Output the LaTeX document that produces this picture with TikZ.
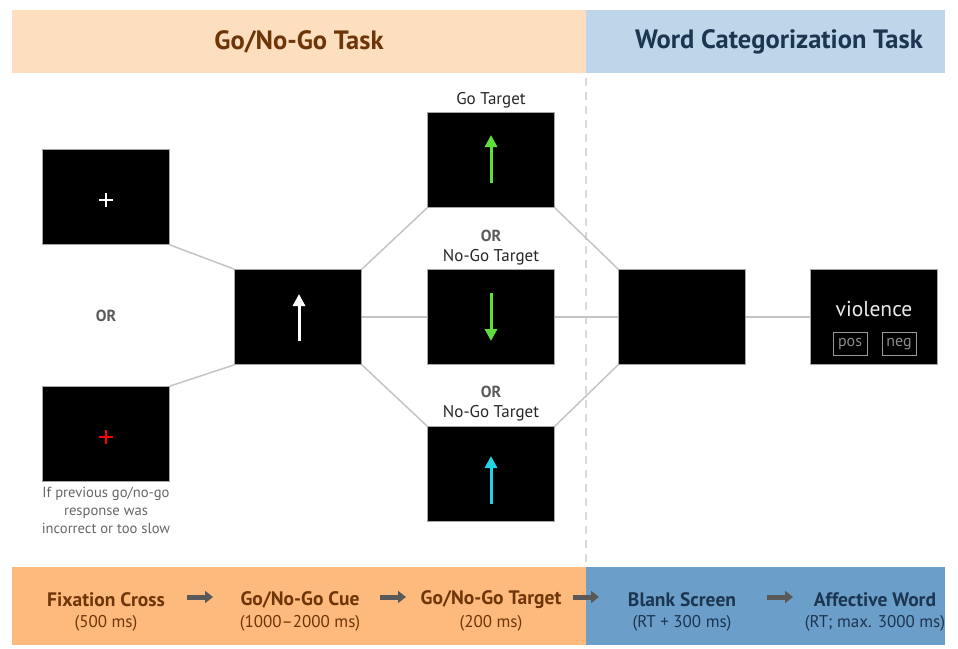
\documentclass[tikz,border=0pt]{standalone}
\usepackage{fontspec}
\setmainfont{PT Sans}
\usetikzlibrary{arrows.meta}
\definecolor{hdrOr}{HTML}{FDDFC0}
\definecolor{hdrBl}{HTML}{BED6EA}
\definecolor{botOr}{HTML}{FDBA7C}
\definecolor{botBl}{HTML}{6B9FC9}
\definecolor{txBr}{HTML}{6E3508}
\definecolor{txBl}{HTML}{1C3550}
\definecolor{conn}{HTML}{C4C4C4}
\definecolor{goGreen}{HTML}{5EDD3C}
\definecolor{nogoCyan}{HTML}{22D3E6}
\tikzset{
  screen/.style={draw=gray!70, fill=black, line width=0.8pt, minimum width=127pt, minimum height=95pt, inner sep=0pt},
  connline/.style={draw=conn, line width=1.5pt},
  lbl/.style={font=\fontsize{17}{19}\selectfont, text=black!85},
  orlbl/.style={font=\fontsize{16}{18}\selectfont\bfseries, text=black!65},
  hdr/.style={font=\fontsize{26.5}{28}\selectfont\bfseries},
  stepname/.style={font=\fontsize{19.5}{21}\selectfont\bfseries},
  stepdur/.style={font=\fontsize{17}{19}\selectfont},
  flowarrow/.style={draw=black!65, line width=5pt, -{Triangle[length=8pt,width=12pt]}},
  stim/.style={line width=3pt, -{Triangle[length=12pt,width=12pt]}},
  keybox/.style={draw=gray!80, line width=1pt, text=gray!90, minimum width=34pt, minimum height=23pt, inner sep=0pt, font=\fontsize{16}{18}\selectfont}
}
\begin{document}
\begin{tikzpicture}[x=1pt,y=-1pt]
\useasboundingbox (0,0) rectangle (958,648);
% header
\fill[hdrOr] (12,10) rectangle (586,73);
\fill[hdrBl] (586,10) rectangle (945,73);
\node[hdr, text=txBr] (h1) at (299,42) {Go/No-Go Task};
\node[hdr, text=txBl] (h2) at (779,42) {Word Categorization Task};
% bottom band
\fill[botOr] (12,567) rectangle (586,645);
\fill[botBl] (586,567) rectangle (945,645);
% dashed separator
\draw[gray!30, line width=1.2pt, dash pattern=on 8pt off 6pt] (586,78) -- (586,562);

% screens
\node[screen] (fix1) at (106,197) {};
\node[screen] (fix2) at (106,434) {};
\node[screen] (cue) at (298,317) {};
\node[screen] (go) at (491,160) {};
\node[screen] (nogo1) at (491,317) {};
\node[screen] (nogo2) at (491,474) {};
\node[screen] (blank) at (682,317) {};
\node[screen] (word) at (874,317) {};

% connectors
\draw[connline] (fix1.south east) -- (cue.north west);
\draw[connline] (fix2.north east) -- (cue.south west);
\draw[connline] (cue.north east) -- (go.south west);
\draw[connline] (cue.east) -- (nogo1.west);
\draw[connline] (cue.south east) -- (nogo2.north west);
\draw[connline] (go.south east) -- (blank.north west);
\draw[connline] (nogo1.east) -- (blank.west);
\draw[connline] (nogo2.north east) -- (blank.south west);
\draw[connline] (blank.east) -- (word.west);

% fixation crosses
\draw[white, line width=1.3pt] (99,200) -- (113,200) (106,193) -- (106,207);
\draw[red, line width=1.3pt] (99,437) -- (113,437) (106,430) -- (106,444);

% stimulus arrows
\draw[stim, white] (299,341) -- (299,294);
\draw[stim, goGreen] (491,183) -- (491,135);
\draw[stim, goGreen] (491,293) -- (491,341);
\draw[stim, nogoCyan] (491,504) -- (491,456);

% word screen
\node[font=\fontsize{21.5}{23}\selectfont, text=white!92!black] (vio) at (874,309) {violence};
\node[keybox] (pos) at (850,344) {pos};
\node[keybox] (neg) at (899,344) {neg};

% labels
\node[orlbl] (or1) at (106,316) {OR};
\node[lbl] (lgo) at (491,100) {Go Target};
\node[orlbl] (or2) at (491,236) {OR};
\node[lbl] (lng1) at (491,257) {No-Go Target};
\node[orlbl] (or3) at (491,392) {OR};
\node[lbl] (lng2) at (491,413) {No-Go Target};
\node[font=\fontsize{14.6}{18}\selectfont, text=black!60, align=center] (cap) at (106,510) {If previous go/no-go\\response was\\incorrect or too slow};

% bottom steps
\node[stepname, text=txBr] (s1) at (106,600) {Fixation Cross};
\node[stepdur, text=txBr] (d1) at (106,623) {(500 ms)};
\node[stepname, text=txBr] (s2) at (300,600) {Go/No-Go Cue};
\node[stepdur, text=txBr] (d2) at (300,623) {(1000–2000 ms)};
\node[stepname, text=txBr] (s3) at (491,600) {Go/No-Go Target};
\node[stepdur, text=txBr] (d3) at (491,623) {(200 ms)};
\node[stepname, text=txBl] (s4) at (682,600) {Blank Screen};
\node[stepdur, text=txBl] (d4) at (682,623) {(RT + 300 ms)};
\node[stepname, text=txBl] (s5) at (875,600) {Affective Word};
\node[stepdur, text=txBl] (d5) at (875,623) {(RT; max. 3000 ms)};

\coordinate (a1s) at (187,597); \coordinate (a1e) at (213,597);
\coordinate (a2s) at (380,597); \coordinate (a2e) at (406,597);
\coordinate (a3s) at (573,597); \coordinate (a3e) at (599,597);
\coordinate (a4s) at (767,597); \coordinate (a4e) at (793,597);
\draw[flowarrow] (a1s) -- (a1e);
\draw[flowarrow] (a2s) -- (a2e);
\draw[flowarrow] (a3s) -- (a3e);
\draw[flowarrow] (a4s) -- (a4e);
\end{tikzpicture}
\end{document}
